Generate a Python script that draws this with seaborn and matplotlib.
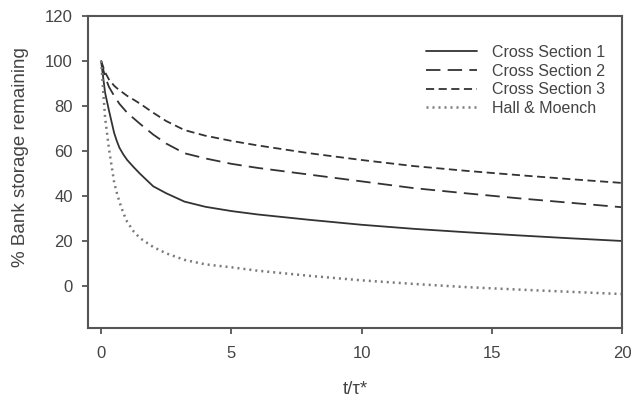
import pandas as pd
import matplotlib
matplotlib.use("Agg")
import matplotlib.pyplot as plt
import seaborn as sns

# values
t = [0, 0.15, 0.3, 0.5, 0.6, 0.7, 0.85, 1.0, 1.25, 1.5, 2.0, 2.5, 3.2, 4, 5, 6, 8, 10, 12, 14, 16, 18, 20]
cross_section_1 = [100, 86, 78, 68, 64.5, 61.5, 58.5, 56, 52.8, 49.8, 44.3, 41.2, 37.5, 35.2, 33.3, 31.8, 29.4, 27.2, 25.4, 23.9, 22.5, 21.2, 20]
cross_section_2 = [100, 93, 88.5, 84.5, 82.8, 81, 79, 77, 74.5, 72, 67.3, 63.3, 59, 56.7, 54.3, 52.5, 49.5, 46.5, 43.5, 41.2, 39, 37, 35]
cross_section_3 = [100, 95, 91.8, 89, 88, 87, 85.8, 84.5, 82.8, 81, 77, 73.3, 69.3, 66.8, 64.5, 62.5, 59, 56, 53.3, 51.2, 49.3, 47.5, 45.8]
hall_moench = [100, 75, 61, 46, 41.5, 37.5, 32.5, 28.5, 24.2, 21.2, 17.3, 14.5, 11.6, 9.6, 8.3, 6.8, 4.5, 2.5, 0.9, -0.5, -1.6, -2.6, -3.6]

x_ticks = [0, 5, 10, 15, 20]
y_ticks = [0, 20, 40, 60, 80, 100, 120]

sns.set_style("white")
plt.rcParams['font.family'] = ['Liberation Sans', 'DejaVu Sans']

text_col = '#444444'
spine_col = '#555555'

fig = plt.figure(figsize=(6.34, 4.01), dpi=100)
ax = fig.add_axes([0.139, 0.182, 0.842, 0.778])

sns.lineplot(x=t, y=cross_section_1, ax=ax, color='#333333', lw=1.3, label='Cross Section 1')
sns.lineplot(x=t, y=cross_section_2, ax=ax, color='#333333', lw=1.3, label='Cross Section 2',
             linestyle=(0, (8, 4)))
sns.lineplot(x=t, y=cross_section_3, ax=ax, color='#333333', lw=1.3, label='Cross Section 3',
             linestyle=(0, (4.5, 2.5)))
sns.lineplot(x=t, y=hall_moench, ax=ax, color='#7a7a7a', lw=1.8, label='Hall & Moench',
             linestyle=(0, (0.8, 1.6)))

ax.set_xlim(-0.5, 20)
ax.set_ylim(-18.7, 120)
ax.set_xticks(x_ticks)
ax.set_yticks(y_ticks)

for s in ax.spines.values():
    s.set_color(spine_col)
    s.set_linewidth(1.5)

ax.tick_params(axis='x', direction='out', length=4, width=1.3, color=spine_col,
               labelsize=12, labelcolor=text_col, pad=9, bottom=True)
ax.tick_params(axis='y', direction='out', length=4, width=1.3, color=spine_col,
               labelsize=12, labelcolor=text_col, pad=7, left=True)

ax.set_xlabel('t/τ*', fontsize=13.5, color=text_col, labelpad=14)
ax.set_ylabel('% Bank storage remaining', fontsize=13.5, color=text_col, labelpad=8)
ax.yaxis.set_label_coords(-0.11, 0.548)

leg = ax.legend(loc='upper right', bbox_to_anchor=(0.995, 0.953), frameon=False,
                fontsize=11.5, handlelength=3.2, labelspacing=0.22, handletextpad=0.9)
for txt in leg.get_texts():
    txt.set_color(text_col)

plt.savefig('out.png', dpi=100)
